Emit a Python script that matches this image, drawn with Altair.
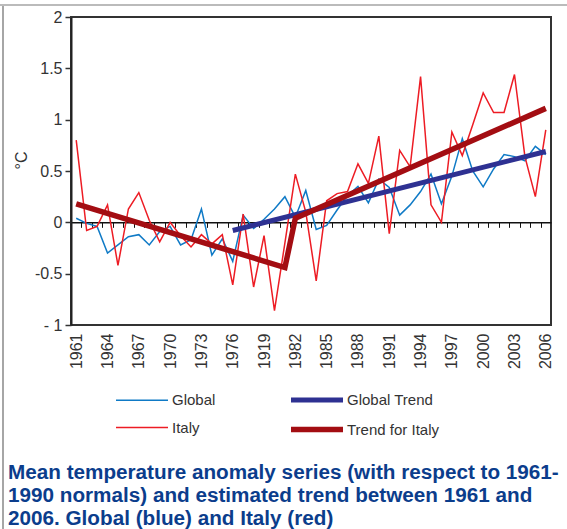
import altair as alt
import pandas as pd

years = list(range(1961, 2007))
global_vals = [0.04, -0.01, -0.04, -0.30, -0.22, -0.14, -0.12, -0.22, -0.09, -0.04,
               -0.22, -0.17, 0.13, -0.32, -0.16, -0.38, 0.07, -0.06, 0.03, 0.13,
               0.25, 0.05, 0.31, -0.07, -0.03, 0.12, 0.26, 0.35, 0.19, 0.42,
               0.34, 0.07, 0.17, 0.30, 0.47, 0.18, 0.45, 0.815, 0.50, 0.345,
               0.52, 0.66, 0.64, 0.60, 0.74, 0.66]
italy_vals = [0.80, -0.08, -0.04, 0.17, -0.42, 0.13, 0.29, 0.02, -0.19, 0.00,
              -0.13, -0.24, -0.12, -0.21, -0.12, -0.61, 0.08, -0.63, -0.13, -0.86,
              -0.20, 0.47, 0.10, -0.57, 0.21, 0.28, 0.30, 0.57, 0.38, 0.84,
              -0.11, 0.70, 0.54, 1.42, 0.17, 0.00, 0.88, 0.65, 0.95, 1.26,
              1.07, 1.07, 1.44, 0.64, 0.25, 0.90]
global_trend_years = [1976, 2006]
global_trend_vals = [-0.08, 0.69]
italy_trend_years = [1961, 1981, 1982, 2006]
italy_trend_vals = [0.18, -0.44, 0.04, 1.11]

# legend order (column-major): Global, Italy | Global Trend, Trend for Italy
series_names = ["Global", "Italy", "Global Trend", "Trend for Italy"]
series_colors = ["#0f7ac6", "#ed1c24", "#2e3192", "#a30d12"]
series_widths = [1.5, 1.5, 5, 5.5]

x_label_years = [1961, 1964, 1967, 1970, 1973, 1976, 1979, 1982, 1985, 1988,
                 1991, 1994, 1997, 2000, 2003, 2006]
x_label_text = ["1961", "1964", "1967", "1970", "1973", "1976", "1919", "1982", "1985",
                "1988", "1991", "1994", "1997", "2000", "2003", "2006"]
y_tick_values = [-1, -0.5, 0, 0.5, 1, 1.5, 2]
y_tick_text = ["- 1", "-0.5", "0", "0.5", "1", "1.5", "2"]
caption = ["Mean temperature anomaly series (with respect to 1961-",
           "1990 normals) and estimated trend between 1961 and",
           "2006. Global (blue) and Italy (red)"]

rows = []
for y, v in zip(years, global_vals):
    rows.append({"year": y, "value": v, "series": "Global"})
for y, v in zip(years, italy_vals):
    rows.append({"year": y, "value": v, "series": "Italy"})
for y, v in zip(global_trend_years, global_trend_vals):
    rows.append({"year": y, "value": v, "series": "Global Trend"})
for y, v in zip(italy_trend_years, italy_trend_vals):
    rows.append({"year": y, "value": v, "series": "Trend for Italy"})
df = pd.DataFrame(rows)


def label_expr(values, texts):
    expr = "''"
    for v, t in zip(values, texts):
        expr = f"datum.value == {v} ? '{t}' : ({expr})"
    return expr


FONT = "Liberation Sans"
x_scale = alt.Scale(domain=[years[0] - 0.5, years[-1] + 0.5], nice=False, zero=False)
y_scale = alt.Scale(domain=[-1, 2], nice=False, zero=False)

label_axis = alt.Axis(values=x_label_years, labelExpr=label_expr(x_label_years, x_label_text),
                      labelAngle=270, labelFontSize=16, labelFont=FONT, labelColor="#333",
                      labelPadding=8, ticks=False, domain=False, grid=False, title=None,
                      orient="bottom")
zero_axis = alt.Axis(values=[y + 0.5 for y in years[:-1]], labels=False, domain=True,
                     domainColor="#111", domainWidth=1.5, ticks=True, tickColor="#111",
                     tickSize=5, tickWidth=1, grid=False, title=None, orient="bottom",
                     offset=-102.67)
y_axis = alt.Axis(values=y_tick_values, labelExpr=label_expr(y_tick_values, y_tick_text),
                  labelFontSize=16, labelFont=FONT, labelColor="#333", labelPadding=3,
                  tickSize=6, tickColor="#333", tickWidth=1.5, domainColor="#222",
                  domainWidth=2, grid=False, title="°C", titleFont=FONT, titleFontSize=16,
                  titleFontWeight="normal", titleColor="#333", titleX=-42, titleY=143)

legend = alt.Legend(title=None, orient="none", legendX=42, legendY=374, columns=2,
                    symbolType="M-1,0H7", symbolSize=169, labelOffset=40,
                    labelFontSize=15, labelFont=FONT, labelColor="#333",
                    rowPadding=8, columnPadding=64)

color = alt.Color("series:N", scale=alt.Scale(domain=series_names, range=series_colors),
                  legend=legend)
width = alt.StrokeWidth("series:N", scale=alt.Scale(type="ordinal", domain=series_names,
                                                    range=series_widths),
                        legend=legend)
y_enc = alt.Y("value:Q", scale=y_scale, axis=y_axis)


def series_layer(name, axis):
    return alt.Chart(df).transform_filter(alt.datum.series == name).mark_line().encode(
        x=alt.X("year:Q", scale=x_scale, axis=axis),
        y=y_enc, color=color, strokeWidth=width)


frame_data = pd.DataFrame({"k": [0]})
frame_left = alt.Chart(frame_data).mark_rule(color="#888", strokeWidth=1.5).encode(
    x=alt.value(-68), y=alt.value(-12), y2=alt.value(512))
frame_top = alt.Chart(frame_data).mark_rule(color="#bbb", strokeWidth=2).encode(
    x=alt.value(-71), x2=alt.value(496), y=alt.value(-12))

chart = alt.layer(
    series_layer("Global", label_axis),
    series_layer("Italy", None),
    series_layer("Global Trend", None),
    series_layer("Trend for Italy", zero_axis),
    frame_left,
    frame_top,
).resolve_axis(x="independent").properties(
    width=480, height=308,
    autosize=alt.AutoSizeParams(type="none"),
    padding={"left": 71, "top": 17, "right": 16, "bottom": 204},
    title=alt.TitleParams(text=caption, orient="bottom", anchor="start", frame="group",
                          dx=-63, offset=-67, fontSize=20.7, fontWeight="bold",
                          color="#0b3d8c", font=FONT, lineHeight=23),
).configure_view(stroke="#333", strokeWidth=2)

chart.save("out.html", embed_options={"renderer": "svg", "actions": False})
